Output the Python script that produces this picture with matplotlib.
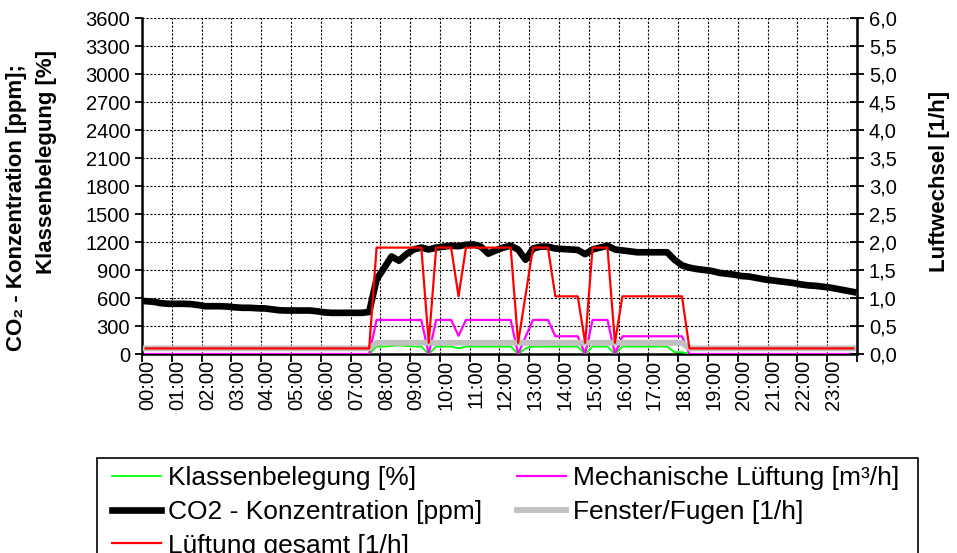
import numpy as np
import matplotlib
matplotlib.use("Agg")
import matplotlib.pyplot as plt
from matplotlib.lines import Line2D
from matplotlib.patches import Rectangle
from matplotlib.ticker import FuncFormatter, FixedLocator

plt.rcParams['font.family'] = ['Liberation Sans', 'DejaVu Sans']

# quarter-hour time slots, labels every hour
hour_labels = [f"{h:02d}:00" for h in range(24)]

# CO2 concentration [ppm], one row per hour (4 quarter-hour values)
co2 = [
    566, 560, 545, 538,
    538, 538, 535, 525,
    512, 512, 512, 508,
    500, 495, 495, 490,
    488, 478, 468, 466,
    466, 466, 466, 458,
    446, 441, 441, 441,
    441, 441, 450, 800,
    920, 1045, 1000, 1070,
    1120, 1140, 1120, 1140,
    1150, 1160, 1155, 1170,
    1175, 1150, 1075, 1110,
    1140, 1160, 1120, 1010,
    1130, 1150, 1150, 1130,
    1125, 1120, 1115, 1070,
    1120, 1140, 1160, 1120,
    1110, 1100, 1090, 1090,
    1090, 1090, 1090, 1010,
    950, 925, 910, 900,
    890, 870, 860, 850,
    835, 830, 815, 800,
    790, 780, 770, 760,
    745, 735, 730, 720,
    710, 695, 680, 665,
]

# class occupancy [%]
occupancy = [
    0, 0, 0, 0,
    0, 0, 0, 0,
    0, 0, 0, 0,
    0, 0, 0, 0,
    0, 0, 0, 0,
    0, 0, 0, 0,
    0, 0, 0, 0,
    0, 0, 0, 80,
    80, 85, 95, 85,
    80, 80, 0, 80,
    80, 80, 60, 80,
    80, 80, 80, 80,
    80, 80, 0, 60,
    80, 80, 80, 80,
    80, 80, 80, 0,
    80, 80, 80, 0,
    80, 80, 80, 80,
    80, 80, 80, 20,
    20, 0, 0, 0,
    0, 0, 0, 0,
    0, 0, 0, 0,
    0, 0, 0, 0,
    0, 0, 0, 0,
    0, 0, 0, 0,
]

# mechanical ventilation [m3/h]
mech = [
    0, 0, 0, 0,
    0, 0, 0, 0,
    0, 0, 0, 0,
    0, 0, 0, 0,
    0, 0, 0, 0,
    0, 0, 0, 0,
    0, 0, 0, 0,
    0, 0, 0, 365,
    365, 365, 365, 365,
    365, 365, 0, 365,
    365, 365, 195, 365,
    365, 365, 365, 365,
    365, 365, 0, 185,
    365, 365, 365, 190,
    190, 190, 190, 0,
    365, 365, 365, 0,
    190, 190, 190, 190,
    190, 190, 190, 190,
    190, 0, 0, 0,
    0, 0, 0, 0,
    0, 0, 0, 0,
    0, 0, 0, 0,
    0, 0, 0, 0,
    0, 0, 0, 0,
]

# window / joints air change [1/h]
window = [
    0.1, 0.1, 0.1, 0.1,
    0.1, 0.1, 0.1, 0.1,
    0.1, 0.1, 0.1, 0.1,
    0.1, 0.1, 0.1, 0.1,
    0.1, 0.1, 0.1, 0.1,
    0.1, 0.1, 0.1, 0.1,
    0.1, 0.1, 0.1, 0.1,
    0.1, 0.1, 0.1, 0.2,
    0.2, 0.2, 0.2, 0.2,
    0.2, 0.2, 0.2, 0.2,
    0.2, 0.2, 0.2, 0.2,
    0.2, 0.2, 0.2, 0.2,
    0.2, 0.2, 0.2, 0.2,
    0.2, 0.2, 0.2, 0.2,
    0.2, 0.2, 0.2, 0.2,
    0.2, 0.2, 0.2, 0.2,
    0.2, 0.2, 0.2, 0.2,
    0.2, 0.2, 0.2, 0.2,
    0.2, 0.1, 0.1, 0.1,
    0.1, 0.1, 0.1, 0.1,
    0.1, 0.1, 0.1, 0.1,
    0.1, 0.1, 0.1, 0.1,
    0.1, 0.1, 0.1, 0.1,
    0.1, 0.1, 0.1, 0.1,
]

# total air change [1/h]
total = [
    0.1, 0.1, 0.1, 0.1,
    0.1, 0.1, 0.1, 0.1,
    0.1, 0.1, 0.1, 0.1,
    0.1, 0.1, 0.1, 0.1,
    0.1, 0.1, 0.1, 0.1,
    0.1, 0.1, 0.1, 0.1,
    0.1, 0.1, 0.1, 0.1,
    0.1, 0.1, 0.1, 1.9,
    1.9, 1.9, 1.9, 1.9,
    1.9, 1.9, 0.2, 1.9,
    1.9, 1.9, 1.03, 1.9,
    1.9, 1.9, 1.9, 1.9,
    1.9, 1.9, 0.2, 1.05,
    1.9, 1.9, 1.9, 1.03,
    1.03, 1.03, 1.03, 0.2,
    1.9, 1.9, 1.9, 0.2,
    1.03, 1.03, 1.03, 1.03,
    1.03, 1.03, 1.03, 1.03,
    1.03, 0.1, 0.1, 0.1,
    0.1, 0.1, 0.1, 0.1,
    0.1, 0.1, 0.1, 0.1,
    0.1, 0.1, 0.1, 0.1,
    0.1, 0.1, 0.1, 0.1,
    0.1, 0.1, 0.1, 0.1,
]

t = np.arange(len(co2)) * 0.25 + 0.125  # centre of each quarter hour

W, H = 957, 553


def fx(px):
    return px / W


def fy(py):
    return 1 - py / H


fig = plt.figure(figsize=(W / 100, H / 100), dpi=100)
ax = fig.add_axes([fx(142), fy(354), 715 / W, 336 / H])
ax2 = ax.twinx()

TICK_FS = 14.5
TITLE_FS = 16

# primary axis: ppm / % / m3/h
ax.plot(t, occupancy, color='#00ff00', lw=1.3, zorder=3)
ax.plot(t, mech, color='#ff00ff', lw=1.6, zorder=3)
ax.plot(t, co2, color='black', lw=4.8, zorder=4, solid_joinstyle='round')
ax.set_xlim(0, 24)
ax.set_ylim(0, 3600)
ax.set_yticks(np.arange(0, 3601, 300))
ax.xaxis.set_major_locator(FixedLocator(np.arange(0, 25)))
ax.xaxis.set_minor_locator(FixedLocator(np.arange(24) + 0.2))
ax.set_xticklabels([])
ax.set_xticklabels(hour_labels, minor=True, rotation=90, fontsize=TICK_FS)
ax.tick_params(axis='x', which='major', direction='out', length=6, width=1.3, color='black')
ax.tick_params(axis='x', which='minor', length=0, pad=4)
ax.tick_params(axis='y', direction='out', length=5, width=1.3, labelsize=TICK_FS)
ax.grid(True, which='major', color='black', linestyle=(0, (2, 1.5)), linewidth=0.8)
ax.set_axisbelow(True)
ax.spines['top'].set_visible(False)
for side in ('left', 'bottom'):
    ax.spines[side].set_linewidth(1.8)

# secondary axis: air change rate
ax2.plot(t, window, color='#c0c0c0', lw=4.2, zorder=2, solid_joinstyle='round')
ax2.plot(t, total, color='#ff0000', lw=1.6, zorder=3)
ax2.set_ylim(0, 6)
ax2.set_yticks(np.arange(0, 6.01, 0.5))
ax2.yaxis.set_major_formatter(FuncFormatter(lambda v, p: f"{v:.1f}".replace('.', ',')))
ax2.tick_params(axis='y', direction='inout', length=10, width=1.3, labelsize=TICK_FS)
ax2.spines['right'].set_linewidth(1.8)
for side in ('top', 'left', 'bottom'):
    ax2.spines[side].set_visible(False)

# axis titles
fig.text(fx(17), fy(208), "CO₂ - Konzentration [ppm];", rotation=90,
         fontsize=TITLE_FS, fontweight='bold', ha='center', va='center')
fig.text(fx(47), fy(162), "Klassenbelegung [%]", rotation=90,
         fontsize=TITLE_FS, fontweight='bold', ha='center', va='center')
fig.text(fx(940), fy(181), "Luftwechsel [1/h]", rotation=90,
         fontsize=TITLE_FS, fontweight='bold', ha='center', va='center')

# legend box (runs past the lower edge of the figure)
fig.patches.append(Rectangle((fx(97), fy(575)), (918 - 97) / W, (575 - 458) / H,
                             transform=fig.transFigure, facecolor='white',
                             edgecolor='black', linewidth=1.2, zorder=1))

handles = [
    Line2D([], [], color='#00ff00', lw=1.3),
    Line2D([], [], color='black', lw=4.8),
    Line2D([], [], color='#ff0000', lw=1.6),
    Line2D([], [], color='#ff00ff', lw=1.6),
    Line2D([], [], color='#c0c0c0', lw=4.2),
]
labels = [
    "Klassenbelegung [%]",
    "CO2 - Konzentration [ppm]",
    "Lüftung gesamt [1/h]",
    "Mechanische Lüftung [m³/h]",
    "Fenster/Fugen [1/h]",
]
leg = fig.legend(handles, labels, ncol=2, loc='upper left',
                 bbox_to_anchor=(fx(112), fy(466)), bbox_transform=fig.transFigure,
                 fontsize=19, frameon=False, handlelength=1.85, handletextpad=0.27,
                 columnspacing=1.33, labelspacing=0.37, borderpad=0,
                 borderaxespad=0)

fig.savefig("out.png", dpi=100)
